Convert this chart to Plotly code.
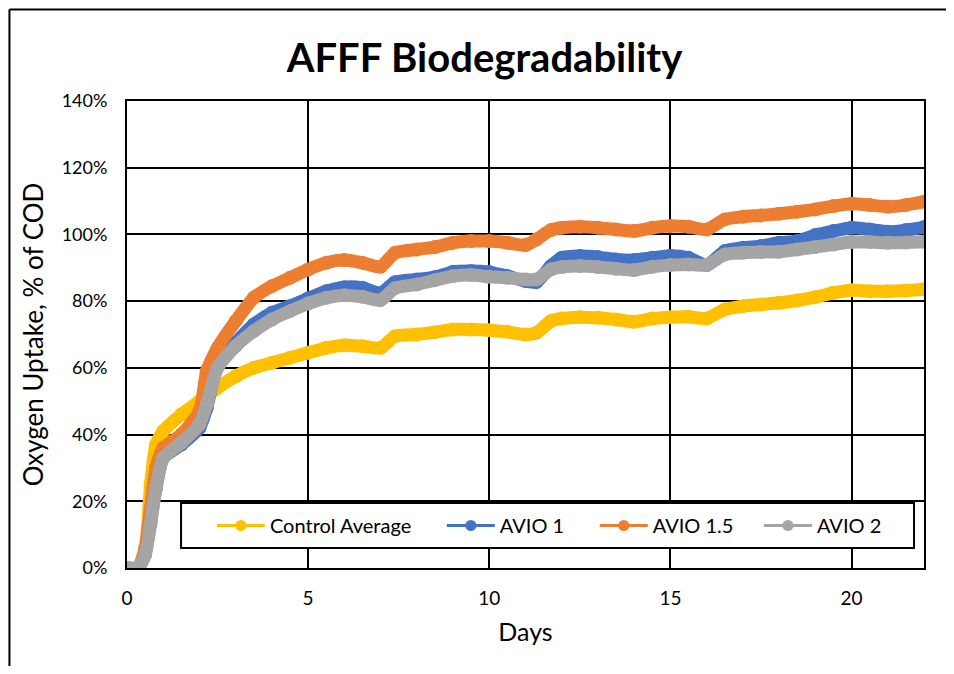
import plotly.graph_objects as go

days = [0, 0.3, 0.5, 0.65, 0.8, 1.0, 1.5, 2.0, 2.2, 2.5, 3.0, 3.5, 4.0, 4.5, 5.0, 5.5, 6.0, 6.5,
        7.0, 7.4, 8.0, 8.5, 9.0, 9.5, 10.0, 10.5, 11.0, 11.3, 11.7, 12.0, 12.5, 13.0, 13.5, 14.0,
        14.5, 15.0, 15.5, 16.0, 16.5, 17.0, 17.5, 18.0, 18.5, 19.0, 19.5, 20.0, 20.5, 21.0, 21.5, 22.0]

control_avg = [0, 0, 5, 25, 37, 41, 46, 50, 51.5, 54, 57.5, 60, 61.5, 63, 64.5, 66, 66.8, 66.5,
               66, 69.5, 70, 70.7, 71.5, 71.5, 71.3, 70.8, 70, 70.5, 74, 74.8, 75.2, 75, 74.5, 73.8,
               74.8, 75.2, 75.3, 74.8, 77.5, 78.5, 79, 79.5, 80.2, 81.2, 82.5, 83.3, 83, 83, 83.2, 83.6]

avio_1 = [0, 0, 4, 14, 24, 33, 37, 42, 48, 61, 67.5, 73, 76.5, 78.5, 80.8, 83, 84.2, 84,
          82.4, 85.7, 86.5, 87.2, 88.8, 89, 88.7, 87.5, 86, 85.7, 90.5, 93, 93.5, 93.2, 92.5, 92.3,
          93, 93.6, 93, 90.8, 95, 96, 96.5, 97.5, 98, 99.8, 101, 102, 101.5, 100.8, 101.3, 102.2]

avio_15 = [0, 0, 6, 18, 30, 36, 40, 47, 59, 66, 74, 81, 84.5, 87, 89.5, 91.5, 92.3, 91.5,
           90.3, 94.5, 95.5, 96.2, 97.5, 98, 98, 97.5, 96.8, 98.5, 101.3, 102, 102.3, 102, 101.5, 101,
           102, 102.5, 102.3, 101.5, 104.5, 105.3, 105.7, 106.2, 106.8, 107.5, 108.5, 109.2, 108.8, 108.3, 108.8, 109.8]

avio_2 = [0, 0, 4, 13, 24, 33, 37.5, 43, 49, 60, 66.5, 71, 74.5, 77, 79.3, 81, 81.8, 81.3,
          80.3, 83.9, 85, 86.3, 87.5, 87.8, 87.3, 87, 86.5, 86.5, 89.5, 90.2, 90.5, 90.2, 89.7, 89.3,
          90.3, 90.8, 91, 90.8, 94, 94.5, 94.7, 94.8, 95.5, 96.2, 97, 97.7, 97.7, 97.5, 97.6, 97.8]

series_names = ["Control Average", "AVIO 1", "AVIO 1.5", "AVIO 2"]
series_values = [control_avg, avio_1, avio_15, avio_2]
colors = ["#FFC000", "#4472C4", "#ED7D31", "#A5A5A5"]
legend_pads = [5, 5, 4, 0]

FONT = "Lato, Liberation Sans, Arial"

fig = go.Figure()
for name, vals, col in zip(series_names, series_values, colors):
    fig.add_trace(go.Scatter(
        x=days, y=[v / 100 for v in vals], mode="lines+markers", name=name,
        line=dict(color=col, width=13, shape="spline", smoothing=0.6),
        marker=dict(color=col, size=14, line=dict(width=0)),
        showlegend=False, hoverinfo="x+y"))
for name, col, pad in zip(series_names, colors, legend_pads):
    fig.add_trace(go.Scatter(
        x=[None], y=[None], mode="lines+markers", name=name + "\u00a0" * pad,
        line=dict(color=col, width=3), marker=dict(color=col, size=11),
        showlegend=True))

fig.update_layout(
    width=938, height=658,
    paper_bgcolor="white", plot_bgcolor="white",
    margin=dict(l=119, r=22, t=93, b=98),
    font=dict(family=FONT, color="black", size=18),
    title=dict(text="<b>AFFF Biodegradability</b>", x=0.508, xanchor="center",
               y=0.924, yanchor="middle", font=dict(size=40, family=FONT, color="black")),
    xaxis=dict(range=[0, 22], tickvals=[0, 5, 10, 15, 20], showgrid=True, gridcolor="black",
               gridwidth=2, showline=True, linecolor="black", linewidth=2, mirror=True,
               zeroline=False, ticks="", ticklabelstandoff=12, tickfont=dict(size=19),
               title=dict(text="Days", font=dict(size=25, family=FONT), standoff=16)),
    yaxis=dict(range=[0, 1.4], dtick=0.2, tickformat=".0%", showgrid=True, gridcolor="black",
               gridwidth=2, showline=True, linecolor="black", linewidth=2, mirror=True,
               zeroline=False, ticks="", ticklabelstandoff=14,
               title=dict(text="Oxygen Uptake, % of COD", font=dict(size=26, family=FONT), standoff=11)),
    legend=dict(orientation="h", x=0.1066, xanchor="left", y=0.091, yanchor="middle",
                bgcolor="rgba(0,0,0,0)", borderwidth=0, font=dict(size=20, family=FONT),
                itemwidth=48),
    shapes=[
        dict(type="rect", xref="paper", yref="paper", x0=0.0678, x1=0.9875, y0=0.0428, y1=0.139,
             line=dict(color="black", width=2), fillcolor="white", layer="above"),
        dict(type="line", xref="paper", yref="paper", x0=-0.1475, x1=-0.1475, y0=-0.5, y1=1.196,
             line=dict(color="black", width=2), layer="above"),
        dict(type="line", xref="paper", yref="paper", x0=-0.1475, x1=1.3, y0=1.196, y1=1.196,
             line=dict(color="black", width=2), layer="above"),
    ],
)

fig.write_html("out.html", default_width="938px", default_height="658px")
